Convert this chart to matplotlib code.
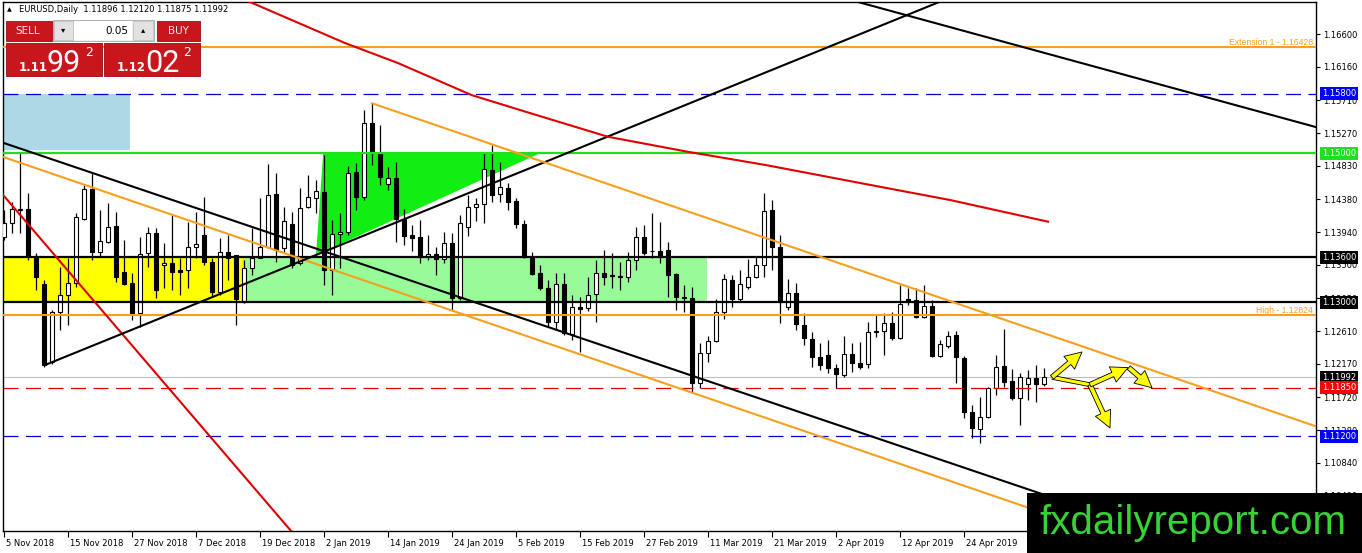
import numpy as np
import pandas as pd
import matplotlib
matplotlib.use("Agg")
import matplotlib.pyplot as plt
import matplotlib.patheffects as pe
from matplotlib.patches import Rectangle, Polygon
from matplotlib.transforms import ScaledTranslation

# EURUSD daily candles 5 Nov 2018 - 8 May 2019
open_ = [1.1387, 1.1406, 1.1424, 1.1425, 1.1362, 1.1324, 1.1220, 1.1287, 1.1310, 1.1326,
         1.1412, 1.1452, 1.1367, 1.1381, 1.1402, 1.1340, 1.1326, 1.1285, 1.1366, 1.1393,
         1.1350, 1.1352, 1.1343, 1.1343, 1.1374, 1.1390, 1.1354, 1.1314, 1.1367, 1.1363,
         1.1300, 1.1346, 1.1359, 1.1374, 1.1445, 1.1372, 1.1405, 1.1352, 1.1428, 1.1440,
         1.1448, 1.1343, 1.1391, 1.1394, 1.1475, 1.1441, 1.1540, 1.1500, 1.1459, 1.1466,
         1.1412, 1.1390, 1.1387, 1.1361, 1.1365, 1.1358, 1.1379, 1.1306, 1.1401, 1.1428,
         1.1432, 1.1477, 1.1445, 1.1453, 1.1436, 1.1405, 1.1361, 1.1339, 1.1319, 1.1273,
         1.1324, 1.1257, 1.1293, 1.1292, 1.1311, 1.1339, 1.1336, 1.1335, 1.1334, 1.1357,
         1.1387, 1.1369, 1.1369, 1.1370, 1.1338, 1.1307, 1.1306, 1.1191, 1.1232, 1.1248,
         1.1287, 1.1330, 1.1304, 1.1320, 1.1334, 1.1350, 1.1424, 1.1374, 1.1293, 1.1312,
         1.1269, 1.1250, 1.1226, 1.1229, 1.1212, 1.1202, 1.1230, 1.1218, 1.1217, 1.1260,
         1.1261, 1.1272, 1.1252, 1.1304, 1.1303, 1.1280, 1.1295, 1.1228, 1.1241, 1.1256,
         1.1225, 1.1152, 1.1130, 1.1146, 1.1185, 1.1214, 1.1194, 1.1171, 1.1190, 1.1198,
         1.11896]
high = [1.1424, 1.1434, 1.1500, 1.1447, 1.1366, 1.1330, 1.1289, 1.1347, 1.1359, 1.1420,
        1.1457, 1.1473, 1.1424, 1.1433, 1.1421, 1.1383, 1.1339, 1.1387, 1.1401, 1.1400,
        1.1379, 1.1417, 1.1359, 1.1408, 1.1421, 1.1441, 1.1359, 1.1386, 1.1390, 1.1363,
        1.1357, 1.1400, 1.1440, 1.1485, 1.1473, 1.1428, 1.1421, 1.1453, 1.1471, 1.1464,
        1.1498, 1.1410, 1.1420, 1.1483, 1.1487, 1.1558, 1.1567, 1.1538, 1.1481, 1.1488,
        1.1425, 1.1404, 1.1410, 1.1390, 1.1374, 1.1394, 1.1393, 1.1417, 1.1444, 1.1440,
        1.1500, 1.1511, 1.1488, 1.1460, 1.1440, 1.1410, 1.1367, 1.1350, 1.1330, 1.1339,
        1.1339, 1.1310, 1.1307, 1.1334, 1.1357, 1.1370, 1.1366, 1.1354, 1.1367, 1.1401,
        1.1404, 1.1420, 1.1408, 1.1381, 1.1339, 1.1323, 1.1320, 1.1245, 1.1255, 1.1304,
        1.1338, 1.1336, 1.1343, 1.1358, 1.1361, 1.1447, 1.1437, 1.1390, 1.1331, 1.1326,
        1.1285, 1.1260, 1.1245, 1.1249, 1.1217, 1.1254, 1.1245, 1.1246, 1.1273, 1.1283,
        1.1285, 1.1287, 1.1323, 1.1319, 1.1319, 1.1323, 1.1303, 1.1249, 1.1261, 1.1261,
        1.1227, 1.1162, 1.1173, 1.1186, 1.1229, 1.1264, 1.1210, 1.1205, 1.1209, 1.1216,
        1.12120]
low = [1.1383, 1.1393, 1.1393, 1.1357, 1.1316, 1.1213, 1.1217, 1.1263, 1.1269, 1.1320,
       1.1410, 1.1357, 1.1361, 1.1379, 1.1327, 1.1323, 1.1276, 1.1267, 1.1347, 1.1306,
       1.1319, 1.1316, 1.1310, 1.1319, 1.1359, 1.1350, 1.1307, 1.1310, 1.1330, 1.1269,
       1.1299, 1.1336, 1.1359, 1.1372, 1.1354, 1.1367, 1.1346, 1.1350, 1.1426, 1.1420,
       1.1323, 1.1310, 1.1346, 1.1390, 1.1424, 1.1437, 1.1484, 1.1457, 1.1451, 1.1381,
       1.1377, 1.1369, 1.1352, 1.1357, 1.1336, 1.1352, 1.1289, 1.1303, 1.1389, 1.1409,
       1.1406, 1.1434, 1.1434, 1.1424, 1.1400, 1.1359, 1.1336, 1.1316, 1.1267, 1.1263,
       1.1256, 1.1249, 1.1233, 1.1288, 1.1273, 1.1323, 1.1319, 1.1316, 1.1327, 1.1343,
       1.1363, 1.1359, 1.1352, 1.1307, 1.1289, 1.1287, 1.1178, 1.1185, 1.1220, 1.1246,
       1.1277, 1.1293, 1.1301, 1.1317, 1.1332, 1.1334, 1.1343, 1.1272, 1.1289, 1.1263,
       1.1242, 1.1213, 1.1209, 1.1205, 1.1185, 1.1199, 1.1206, 1.1210, 1.1212, 1.1253,
       1.1229, 1.1249, 1.1251, 1.1296, 1.1279, 1.1279, 1.1226, 1.1226, 1.1238, 1.1191,
       1.1144, 1.1118, 1.1111, 1.1144, 1.1175, 1.1186, 1.1169, 1.1135, 1.1169, 1.1166,
       1.11875]
close = [1.1406, 1.1425, 1.1425, 1.1362, 1.1334, 1.1216, 1.1287, 1.1310, 1.1326, 1.1414,
         1.1452, 1.1367, 1.1382, 1.1401, 1.1334, 1.1324, 1.1285, 1.1365, 1.1393, 1.1316,
         1.1352, 1.1340, 1.1340, 1.1374, 1.1378, 1.1354, 1.1314, 1.1367, 1.1359, 1.1304,
         1.1346, 1.1359, 1.1374, 1.1444, 1.1370, 1.1409, 1.1350, 1.1426, 1.1441, 1.1449,
         1.1343, 1.1391, 1.1394, 1.1473, 1.1441, 1.1540, 1.1500, 1.1468, 1.1466, 1.1412,
         1.1389, 1.1386, 1.1361, 1.1365, 1.1358, 1.1379, 1.1306, 1.1406, 1.1428, 1.1432,
         1.1479, 1.1444, 1.1455, 1.1434, 1.1405, 1.1361, 1.1338, 1.1319, 1.1273, 1.1324,
         1.1259, 1.1293, 1.1291, 1.1310, 1.1339, 1.1334, 1.1335, 1.1334, 1.1357, 1.1387,
         1.1366, 1.1368, 1.1361, 1.1336, 1.1307, 1.1306, 1.1191, 1.1232, 1.1248, 1.1287,
         1.1331, 1.1304, 1.1324, 1.1334, 1.1350, 1.1422, 1.1374, 1.1300, 1.1312, 1.1271,
         1.1252, 1.1226, 1.1216, 1.1212, 1.1203, 1.1230, 1.1218, 1.1213, 1.1260, 1.1261,
         1.1272, 1.1252, 1.1297, 1.1300, 1.1280, 1.1295, 1.1228, 1.1244, 1.1255, 1.1226,
         1.1152, 1.1131, 1.1146, 1.1185, 1.1213, 1.1193, 1.1171, 1.1199, 1.1198, 1.1190,
         1.11992]

holidays = ["2018-12-25", "2019-01-01"]
dates = pd.bdate_range("2018-11-05", "2019-05-08")
dates = dates[~dates.isin(pd.to_datetime(holidays))]

# horizontal levels
ext_level = 1.16428
high_level = 1.12824
blue_levels = [1.15800, 1.11200]
green_level = 1.15000
black_levels = [1.13600, 1.13000]
red_level = 1.11850
last_price = 1.11992

price_ticks = [1.16600, 1.16160, 1.15710, 1.15270, 1.14830, 1.14380, 1.13940, 1.13500,
               1.13050, 1.12610, 1.12170, 1.11720, 1.11280, 1.10840, 1.10400]
price_boxes = [(1.15800, "#0000ff"), (1.15000, "#1ee01e"), (1.13600, "black"),
               (1.13000, "black"), (1.11992, "black"), (1.11850, "#ff0000"),
               (1.11200, "#0000ff")]

# zones: (bar from, bar to, price low, price high)
blue_zone = (-2, 15.8, 1.1504, 1.1580)
yellow_zone = (-2, 29.9, 1.1300, 1.1360)
palegreen_zone = (29.9, 87.9, 1.1300, 1.1360)
green_triangle = [(39.9, 1.1500), (67.0, 1.1500), (39.0, 1.1363)]

# trendlines as (bar, price) anchors
black_lower = [(-0.125, 1.1514), (108.9, 1.1118)]
orange_lower = [(-0.125, 1.1495), (87.6, 1.11725)]
orange_upper = [(46, 1.1567), (131.4, 1.1253)]
black_rising = [(5.125, 1.12155), (116.6, 1.17017)]
black_top = [(107.1, 1.1702), (164.0, 1.1535)]
red_steep = [(-0.125, 1.1444), (19.5, 1.1198)]
red_ma_x = [30.1, 42.6, 49.25, 58.45, 65.7, 75.5, 85.4, 95.25, 108.45, 118.3, 130.5]
red_ma_y = [1.1706, 1.1648, 1.1621, 1.1578, 1.1554, 1.1522, 1.1502, 1.1484, 1.1457, 1.1437, 1.1408]

# scenario arrows (from, to)
arrows = [((131.0, 1.1199), (134.75, 1.1233)),
          ((135.75, 1.1189), (138.25, 1.1131)),
          ((135.75, 1.1189), (140.5, 1.1212)),
          ((140.6, 1.1212), (143.5, 1.1185))]
arrow_link = [(131.0, 1.1199), (135.75, 1.1189)]

orange = "#f5a01e"
plt.rcParams["font.family"] = "DejaVu Sans"

W, H = 1362, 553
fig = plt.figure(figsize=(W / 100, H / 100), dpi=100, facecolor="white")
ax = fig.add_axes([3 / W, (H - 531) / H, 1313 / W, 529 / H])
ax.set_xlim(-0.125, 164)
ax.set_ylim(1.09926, 1.1703)

# zones
for (x0, x1, y0, y1), col in [(blue_zone, "#add8e6"), (yellow_zone, "#ffff00"),
                              (palegreen_zone, "#98fb98")]:
    ax.add_patch(Rectangle((x0, y0), x1 - x0, y1 - y0, fc=col, ec="none", zorder=1))
ax.add_patch(Polygon(green_triangle, closed=True, fc="#11ee11", ec="none", zorder=1))

# candles
x = np.arange(len(open_))
o, h, l, c = map(np.array, (open_, high, low, close))
bull = c >= o
bottom = np.minimum(o, c)
height = np.maximum(np.abs(c - o), 0.00004)
ax.vlines(x, l, h, color="black", lw=0.9, zorder=3)
ax.bar(x[bull], height[bull], bottom=bottom[bull], width=0.6, color="white",
       edgecolor="black", linewidth=0.8, zorder=4)
ax.bar(x[~bull], height[~bull], bottom=bottom[~bull], width=0.6, color="black",
       edgecolor="black", linewidth=0.8, zorder=4)

# horizontal levels
ax.axhline(ext_level, color=orange, lw=1.5, zorder=5)
ax.axhline(high_level, color=orange, lw=1.5, zorder=5)
ax.axhline(green_level, color="#1ee01e", lw=1.6, zorder=5)
for lvl in black_levels:
    ax.axhline(lvl, color="black", lw=1.6, zorder=5)
for lvl in blue_levels:
    ax.axhline(lvl, color="#0000cc", lw=0.9, dashes=(12, 6), zorder=5)
ax.axhline(red_level, color="#e00000", lw=0.9, dashes=(12, 6), zorder=5)
ax.axhline(last_price, color="#c0c0c0", lw=0.8, zorder=2)

ax.text(0.998, ext_level, "Extension 1 - 1.16428", transform=ax.get_yaxis_transform(),
        ha="right", va="bottom", fontsize=6.2, color=orange, family="Liberation Sans", zorder=6)
ax.text(0.998, high_level, "High - 1.12824", transform=ax.get_yaxis_transform(),
        ha="right", va="bottom", fontsize=6.2, color=orange, family="Liberation Sans", zorder=6)

# trendlines
ax.axline(*black_lower, color="black", lw=1.5, zorder=5)
ax.axline(*orange_lower, color=orange, lw=1.5, zorder=5)
ax.axline(*black_top, color="black", lw=1.5, zorder=5)
ax.axline(*red_steep, color="#dd0000", lw=1.5, zorder=5)


def ray(p0, p1, x_end=170):
    (x0, y0), (x1, y1) = p0, p1
    k = (y1 - y0) / (x1 - x0)
    return [x0, x_end], [y0, y0 + k * (x_end - x0)]


ax.plot(*ray(*black_rising), color="black", lw=1.5, zorder=5)
ax.plot(*ray(*orange_upper), color=orange, lw=1.5, zorder=5)
ax.plot(red_ma_x, red_ma_y, color="#e00000", lw=1.5, zorder=5)

# scenario arrows
stroke = [pe.Stroke(linewidth=3.4, foreground="black"), pe.Normal()]
ax.plot(*zip(*arrow_link), color="#ffff00", lw=2.2, zorder=7, path_effects=stroke,
        solid_capstyle="butt")
for start, end in arrows:
    ax.annotate("", xy=end, xytext=start, zorder=8,
                arrowprops=dict(arrowstyle="simple,head_length=1.0,head_width=1.0,tail_width=0.28",
                                fc="#ffff00", ec="black", lw=0.6, mutation_scale=12,
                                shrinkA=0, shrinkB=0))

# axes styling
for sp in ax.spines.values():
    sp.set_color("black")
    sp.set_linewidth(1)
ax.yaxis.tick_right()
ax.set_yticks(price_ticks)
ax.set_yticklabels([f"{v:.5f}" for v in price_ticks])
ax.tick_params(axis="y", length=3, width=0.8, pad=2, labelsize=6, direction="out")
tick_idx = list(range(0, 129, 8))
ax.set_xticks(tick_idx)
ax.set_xticklabels([f"{dates[i].day} {dates[i]:%b %Y}" for i in tick_idx], ha="left")
ax.tick_params(axis="x", length=4, width=0.8, pad=2, labelsize=6, direction="out")
for lab in ax.get_xticklabels():
    lab.set_transform(lab.get_transform() + ScaledTranslation(2 / 100, 0, fig.dpi_scale_trans))

for lvl, col in price_boxes:
    ax.text(1 + 6 / 1313, lvl, f"{lvl:.5f}", transform=ax.get_yaxis_transform(),
            ha="left", va="center", fontsize=6, color="white", clip_on=False, zorder=10,
            bbox=dict(boxstyle="square,pad=0.25", fc=col, ec="none"))

# overlay in pixel coordinates: header, trade panel, watermark
ui = fig.add_axes([0, 0, 1, 1])
ui.set_xlim(0, W)
ui.set_ylim(H, 0)
ui.axis("off")
ui.set_zorder(5)

ui.text(7, 10, "▲", fontsize=4.5, va="center", ha="left")
ui.text(19, 10, "EURUSD,Daily  1.11896 1.12120 1.11875 1.11992", fontsize=6,
        va="center", ha="left")

red = "#c8161d"
ui.add_patch(Rectangle((6, 21), 46, 20, fc=red, ec="#9a0c10", lw=0.6))
ui.text(28, 31, "SELL", color="#ffe8e8", fontsize=7.5, ha="center", va="center")
ui.add_patch(Rectangle((157, 21), 43, 20, fc=red, ec="#9a0c10", lw=0.6))
ui.text(178, 31, "BUY", color="#ffe8e8", fontsize=7.5, ha="center", va="center")
ui.add_patch(Rectangle((53, 20), 101, 21, fc="#f0f0f0", ec="#a8a8a8", lw=0.6))
ui.add_patch(Rectangle((54, 21), 19, 19, fc="#e2e2e2", ec="#b8b8b8", lw=0.5))
ui.add_patch(Rectangle((74, 21), 58, 19, fc="white", ec="none"))
ui.add_patch(Rectangle((133, 21), 20, 19, fc="#e2e2e2", ec="#b8b8b8", lw=0.5))
ui.text(63, 30, "▾", fontsize=6, ha="center", va="center")
ui.text(143, 30, "▴", fontsize=6, ha="center", va="center")
ui.text(128, 31, "0.05", fontsize=7.5, ha="right", va="center")

for x0, small, big in [(6, "1.11", "99"), (104, "1.12", "02")]:
    ui.add_patch(Rectangle((x0, 43), 96, 33, fc=red, ec="#9a0c10", lw=0.6))
    ui.text(x0 + 13, 71, small, color="white", fontsize=8.5, fontweight="bold",
            ha="left", va="baseline")
    ui.text(x0 + 41, 72, big, color="white", fontsize=22, ha="left", va="baseline",
            family="Roboto")
    ui.text(x0 + 79, 53, "2", color="white", fontsize=9, ha="left", va="center")

ui.add_patch(Rectangle((1027, 493), W - 1027, H - 493, fc="black", ec="none"))
ui.text(1193, 534, "fxdailyreport.com", color="#36d236", fontsize=29,
        family="Liberation Sans", ha="center", va="baseline")

fig.savefig("out.png", dpi=100, facecolor="white")
